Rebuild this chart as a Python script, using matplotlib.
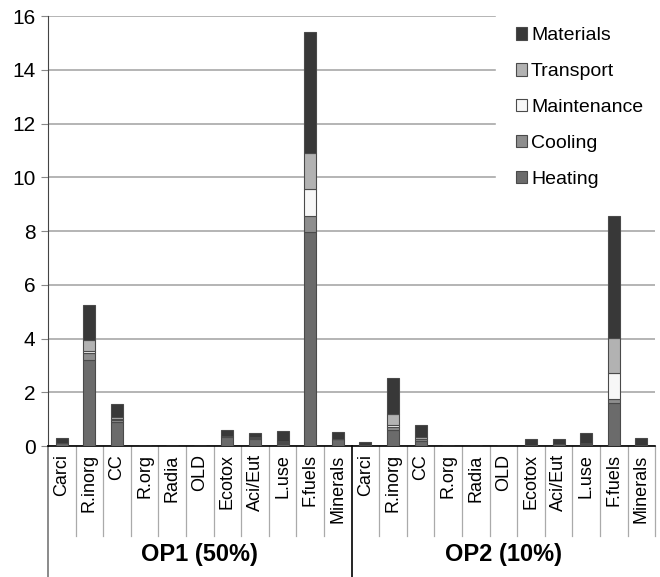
import numpy as np
import matplotlib
matplotlib.use("Agg")
import matplotlib.pyplot as plt
from matplotlib.patches import Patch
import matplotlib.transforms as mtransforms

plt.rcParams['font.family'] = ['Liberation Sans', 'DejaVu Sans']

categories = ["Carci", "R.inorg", "CC", "R.org", "Radia", "OLD",
              "Ecotox", "Aci/Eut", "L.use", "F.fuels", "Minerals"]
groups = ["OP1 (50%)", "OP2 (10%)"]

# stacked components, bottom to top
heating_op1     = [0.10, 3.20, 0.90, 0, 0, 0, 0.33, 0.25, 0.08, 7.97, 0.25]
cooling_op1     = [0.02, 0.25, 0.08, 0, 0, 0, 0.03, 0.05, 0.04, 0.58, 0.02]
maintenance_op1 = [0.00, 0.10, 0.03, 0, 0, 0, 0.00, 0.00, 0.02, 1.00, 0.00]
transport_op1   = [0.01, 0.40, 0.07, 0, 0, 0, 0.02, 0.02, 0.05, 1.35, 0.00]
materials_op1   = [0.17, 1.29, 0.48, 0, 0, 0, 0.22, 0.16, 0.38, 4.50, 0.24]

heating_op2     = [0.03, 0.60, 0.20, 0, 0, 0, 0.05, 0.08, 0.04, 1.59, 0.03]
cooling_op2     = [0.00, 0.12, 0.05, 0, 0, 0, 0.00, 0.00, 0.02, 0.15, 0.00]
maintenance_op2 = [0.00, 0.08, 0.02, 0, 0, 0, 0.00, 0.00, 0.02, 0.96, 0.00]
transport_op2   = [0.00, 0.41, 0.05, 0, 0, 0, 0.00, 0.00, 0.03, 1.33, 0.00]
materials_op2   = [0.13, 1.31, 0.48, 0, 0, 0, 0.20, 0.17, 0.36, 4.52, 0.26]

series = ["Heating", "Cooling", "Maintenance", "Transport", "Materials"]
colors = ["#6b6b6b", "#8e8e8e", "#f7f7f7", "#b2b2b2", "#383838"]

data = np.array([
    heating_op1 + heating_op2,
    cooling_op1 + cooling_op2,
    maintenance_op1 + maintenance_op2,
    transport_op1 + transport_op2,
    materials_op1 + materials_op2,
])
labels = categories + categories
x = np.arange(len(labels))

fig = plt.figure(figsize=(6.6, 5.77), dpi=100)
ax = fig.add_axes([0.0727, 0.227, 0.92, 0.745])

bottom = np.zeros(len(labels))
for vals, name, col in zip(data, series, colors):
    ax.bar(x, vals, 0.43, bottom=bottom, color=col, edgecolor="#4a4a4a",
           linewidth=0.8, label=name, zorder=3)
    bottom += vals

ax.set_ylim(0, 16)
ax.set_xlim(-0.5, len(labels) - 0.5)
ax.set_yticks(np.arange(0, 17, 2))
ax.yaxis.grid(True, color="#a8a8a8", linewidth=1.2, zorder=0)
ax.tick_params(axis="y", labelsize=15, length=5, color="#888888", pad=4)
for sp in ["top", "right"]:
    ax.spines[sp].set_visible(False)
ax.spines["left"].set_color("#444444")
ax.spines["bottom"].set_color("black")
ax.spines["bottom"].set_linewidth(1.2)

ax.set_xticks(x)
ax.set_xticklabels(labels, rotation=90, fontsize=13, va="top")
ax.tick_params(axis="x", length=0, pad=6)

# separators below the axis
trans = mtransforms.blended_transform_factory(ax.transData, ax.transAxes)
for b in np.arange(-0.5, len(labels), 1.0):
    if b in (-0.5, len(categories) - 0.5):
        ax.plot([b, b], [0, -0.305], transform=trans, color="black" if b > 0 else "#777777",
                linewidth=1.2, clip_on=False)
    else:
        ax.plot([b, b], [0, -0.21], transform=trans, color="#aaaaaa",
                linewidth=0.9, clip_on=False)

n = len(categories)
for i, g in enumerate(groups):
    ax.text(i * n + (n - 1) / 2, -0.253, g, transform=trans, ha="center",
            va="center", fontsize=17, fontweight="bold")

handles = [Patch(facecolor=c, edgecolor="#4a4a4a", linewidth=0.8, label=s)
           for s, c in zip(series, colors)][::-1]
leg = ax.legend(handles=handles, loc="upper left", bbox_to_anchor=(0.722, 1.042),
                fontsize=14, frameon=True, fancybox=False, edgecolor="white",
                facecolor="white", framealpha=1, borderpad=1.0, labelspacing=0.97,
                handlelength=0.6, handleheight=0.6, handletextpad=0.2)
leg.set_zorder(5)

fig.savefig("out.png", dpi=100)
